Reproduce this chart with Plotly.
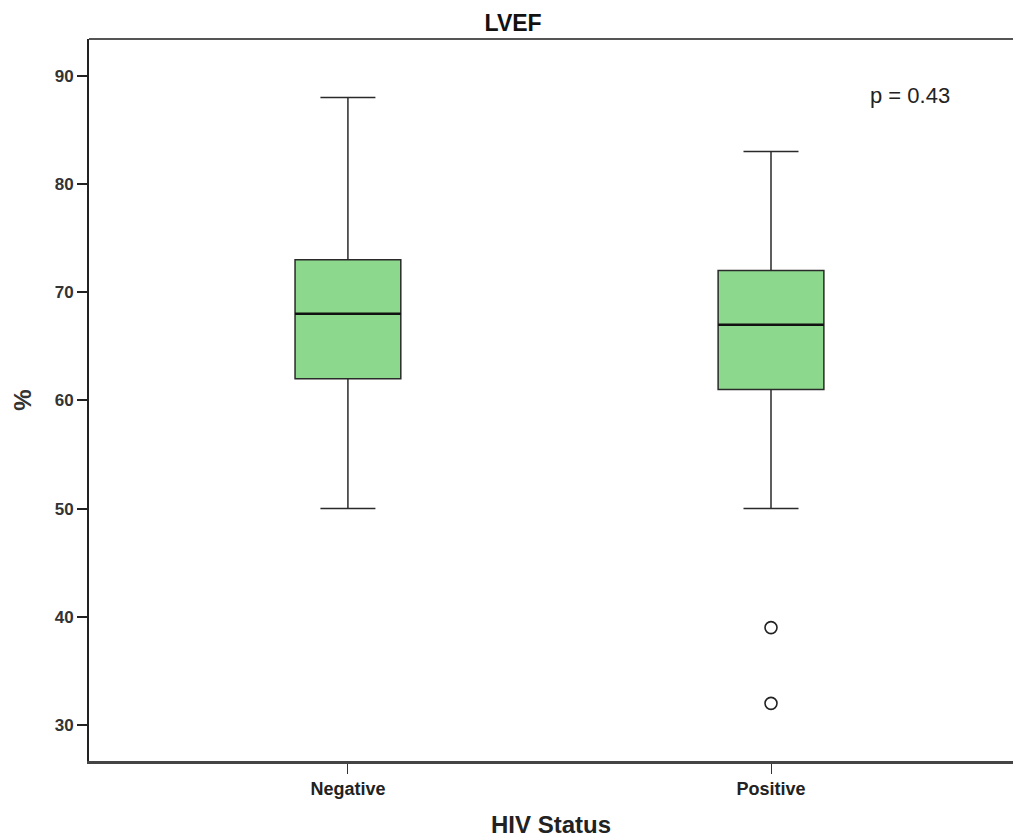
import plotly.graph_objects as go

categories = ["Negative", "Positive"]
q1 = [62, 61]
median = [68, 67]
q3 = [73, 72]
lower = [50, 50]
upper = [88, 83]
outlier_group = ["Positive", "Positive"]
outlier_values = [39, 32]
y_ticks = [30, 40, 50, 60, 70, 80, 90]

pos = {c: i for i, c in enumerate(categories)}
box_w = 0.25

fig = go.Figure()
fig.add_trace(go.Box(
    x=[pos[c] for c in categories], q1=q1, median=median, q3=q3,
    lowerfence=lower, upperfence=upper,
    width=box_w, whiskerwidth=0.52,
    fillcolor="#8CD88C", line=dict(color="#2a2a2a", width=1.5),
    boxpoints=False, showlegend=False, hoverinfo="skip",
))
for c, m in zip(categories, median):
    i = pos[c]
    fig.add_trace(go.Scatter(
        x=[i - box_w / 2, i + box_w / 2], y=[m, m], mode="lines",
        line=dict(color="#111111", width=2.5), showlegend=False, hoverinfo="skip",
    ))
fig.add_trace(go.Scatter(
    x=[pos[g] for g in outlier_group], y=outlier_values, mode="markers",
    marker=dict(symbol="circle-open", size=12, color="#222222", line=dict(width=1.6)),
    showlegend=False,
))

H = 830
fig.update_layout(
    width=1005, height=H,
    margin=dict(l=81, r=0, t=31, b=77),
    plot_bgcolor="white", paper_bgcolor="white",
    title=dict(text="<b>LVEF</b>", x=0.459, xref="paper", xanchor="center",
               y=1 - 15 / H, yref="container", yanchor="middle",
               font=dict(family="Liberation Sans, Arial", size=23, color="#111")),
    font=dict(family="Liberation Sans, Arial", color="#222"),
)
fig.update_xaxes(
    range=[-0.612, 1.572], tickmode="array", tickvals=list(range(len(categories))),
    ticktext=[f"<b>{c}</b>" for c in categories],
    tickfont=dict(size=18, color="#222"),
    ticks="outside", ticklen=10, tickcolor="#333", tickwidth=1.2,
    showline=True, linecolor="#444", linewidth=2.5, mirror=False,
    showgrid=False, zeroline=False, automargin=False,
    title=dict(text="<b>HIV Status</b>", font=dict(size=24, color="#222"), standoff=19),
)
fig.update_yaxes(
    range=[26.67, 93.4], tickmode="array", tickvals=y_ticks,
    ticktext=[f"<b>{v}</b>" for v in y_ticks],
    tickfont=dict(size=17, color="#333"),
    ticks="outside", ticklen=10, tickcolor="#222", tickwidth=2,
    showline=True, linecolor="#222", linewidth=1.8,
    showgrid=False, zeroline=False, automargin=False,
    title=dict(text="<b>%</b>", font=dict(size=24, color="#333"), standoff=16),
)
# top frame line
fig.add_shape(type="line", xref="paper", yref="paper", x0=0, x1=1, y0=1, y1=1,
              line=dict(color="#555", width=1.8))
fig.add_annotation(text="p = 0.43", xref="paper", yref="y", x=0.8885, y=88.2,
                   showarrow=False, font=dict(size=22, color="#222"), xanchor="center")

fig.write_html("out.html")
